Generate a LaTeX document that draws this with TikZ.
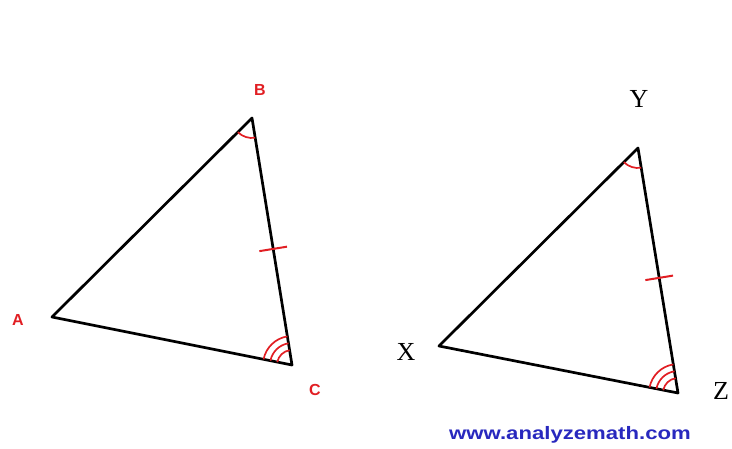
\documentclass[tikz,border=0pt]{standalone}
\usepackage{fontspec}
\setmainfont{Liberation Serif}
\newfontfamily\labsans{Liberation Sans}
\usetikzlibrary{angles,calc}
\definecolor{mred}{RGB}{225,30,35}
\definecolor{mblue}{RGB}{40,40,190}
\tikzset{
  side/.style={line width=2.7pt,line cap=round,line join=round},
  redlab/.style={text=mred,font=\labsans\bfseries\fontsize{16}{16}\selectfont,inner sep=0pt},
  blklab/.style={text=black,font=\fontsize{26}{26}\selectfont,inner sep=0pt},
  mk/.style={draw=mred,line width=1.7pt},
  tick/.style={draw=mred,line width=2pt}
}
\begin{document}
\begin{tikzpicture}[x=1pt,y=1pt]
\useasboundingbox (0,0) rectangle (732,448);
% triangle ABC (image coords: y = 448 - py)
\coordinate (A) at (52,131);
\coordinate (B) at (252,330);
\coordinate (C) at (292,83);
\coordinate (X) at (439,102);
\coordinate (Y) at (638,300);
\coordinate (Z) at (678,55);
\draw[side] (A) -- (B) -- (C) -- cycle;
\draw[side] (X) -- (Y) -- (Z) -- cycle;
% angle marks
\pic[mk,angle radius=20pt] {angle=A--B--C};
\pic[mk,angle radius=15pt] {angle=B--C--A};
\pic[mk,angle radius=22pt] {angle=B--C--A};
\pic[mk,angle radius=29pt] {angle=B--C--A};
\pic[mk,angle radius=20pt] {angle=X--Y--Z};
\pic[mk,angle radius=15pt] {angle=Y--Z--X};
\pic[mk,angle radius=22pt] {angle=Y--Z--X};
\pic[mk,angle radius=29pt] {angle=Y--Z--X};
% ticks on BC and YZ
\coordinate (tb) at ($(B)!0.53!(C)$);
\coordinate (ty) at ($(Y)!0.53!(Z)$);
\draw[tick] ($(tb)!14pt!90:(C)$) -- ($(tb)!14pt!-90:(C)$);
\draw[tick] ($(ty)!14pt!90:(Z)$) -- ($(ty)!14pt!-90:(Z)$);
% labels
\node[redlab] (la) at (18,128) {A};
\node[redlab] (lb) at (260,358) {B};
\node[redlab] (lc) at (315,58) {C};
\node[blklab] (ly) at (639,349) {Y};
\node[blklab] (lx) at (406,96) {X};
\node[blklab] (lz) at (721,57) {Z};
\node[text=mblue,font=\labsans\bfseries\fontsize{18}{18}\selectfont,inner sep=0pt] (wm) at (570,13) {\scalebox{1.23}[1]{www.analyzemath.com}};
\end{tikzpicture}
\end{document}
